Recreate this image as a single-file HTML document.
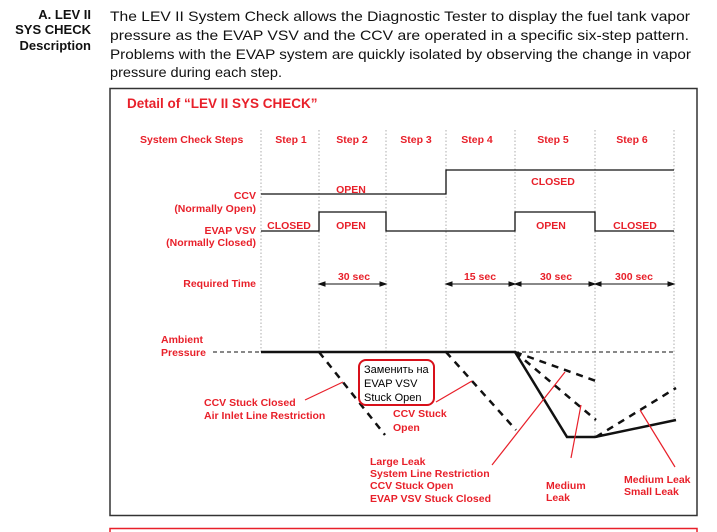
<!DOCTYPE html>
<html><head><meta charset="utf-8"><style>
html,body{margin:0;padding:0;background:#fff;}
svg{display:block;}
text{font-family:"Liberation Sans",Arial,sans-serif;}
.r{fill:#e8202a;font-weight:bold;font-size:10.5px;}
.k{fill:#111;font-size:14px;}
.h{fill:#111;font-size:13px;font-weight:bold;}
</style></head><body>
<svg width="717" height="532" viewBox="0 0 717 532" xmlns="http://www.w3.org/2000/svg">
<text class="h" x="91" y="19" text-anchor="end">A. LEV II</text>
<text class="h" x="91" y="34" text-anchor="end">SYS CHECK</text>
<text class="h" x="91" y="50" text-anchor="end">Description</text>
<text class="k" x="110" y="21" textLength="580" lengthAdjust="spacingAndGlyphs">The LEV II System Check allows the Diagnostic Tester to display the fuel tank vapor</text>
<text class="k" x="110" y="40" textLength="579" lengthAdjust="spacingAndGlyphs">pressure as the EVAP VSV and the CCV are operated in a specific six-step pattern.</text>
<text class="k" x="110" y="59" textLength="581" lengthAdjust="spacingAndGlyphs">Problems with the EVAP system are quickly isolated by observing the change in vapor</text>
<text class="k" x="110" y="77" textLength="172" lengthAdjust="spacingAndGlyphs">pressure during each step.</text>

<rect x="110" y="88.5" width="587" height="427" fill="none" stroke="#333" stroke-width="1.5"/>
<rect x="110" y="528.5" width="587" height="10" fill="none" stroke="#e8202a" stroke-width="1.5"/>

<text x="127" y="108" fill="#e8202a" font-weight="bold" font-size="13.5">Detail of “LEV II SYS CHECK”</text>

<g stroke="#999" stroke-width="0.8" stroke-dasharray="1.5,2">
<line x1="261" y1="130" x2="261" y2="352"/><line x1="319" y1="130" x2="319" y2="352"/>
<line x1="386" y1="130" x2="386" y2="352"/><line x1="446" y1="130" x2="446" y2="352"/>
<line x1="515" y1="130" x2="515" y2="352"/><line x1="595" y1="130" x2="595" y2="437"/>
<line x1="674" y1="130" x2="674" y2="420"/>
</g>

<g class="r">
<text x="140" y="143">System Check Steps</text>
<text x="291" y="143" text-anchor="middle">Step 1</text>
<text x="352" y="143" text-anchor="middle">Step 2</text>
<text x="416" y="143" text-anchor="middle">Step 3</text>
<text x="477" y="143" text-anchor="middle">Step 4</text>
<text x="553" y="143" text-anchor="middle">Step 5</text>
<text x="632" y="143" text-anchor="middle">Step 6</text>
<text x="256" y="199" text-anchor="end">CCV</text>
<text x="256" y="212" text-anchor="end">(Normally Open)</text>
<text x="256" y="234" text-anchor="end">EVAP VSV</text>
<text x="256" y="246" text-anchor="end">(Normally Closed)</text>
<text x="351" y="193" text-anchor="middle">OPEN</text>
<text x="553" y="185" text-anchor="middle">CLOSED</text>
<text x="289" y="229" text-anchor="middle">CLOSED</text>
<text x="351" y="229" text-anchor="middle">OPEN</text>
<text x="551" y="229" text-anchor="middle">OPEN</text>
<text x="635" y="229" text-anchor="middle">CLOSED</text>
<text x="256" y="287" text-anchor="end">Required Time</text>
<text x="354" y="280" text-anchor="middle">30 sec</text>
<text x="480" y="280" text-anchor="middle">15 sec</text>
<text x="556" y="280" text-anchor="middle">30 sec</text>
<text x="634" y="280" text-anchor="middle">300 sec</text>
<text x="161" y="343">Ambient</text>
<text x="161" y="356">Pressure</text>
<text x="204" y="406">CCV Stuck Closed</text>
<text x="204" y="419">Air Inlet Line Restriction</text>
<text x="393" y="417">CCV Stuck</text>
<text x="393" y="431">Open</text>
<text x="370" y="465">Large Leak</text>
<text x="370" y="477">System Line Restriction</text>
<text x="370" y="489">CCV Stuck Open</text>
<text x="370" y="502">EVAP VSV Stuck Closed</text>
<text x="546" y="489">Medium</text>
<text x="546" y="501">Leak</text>
<text x="624" y="483">Medium Leak</text>
<text x="624" y="495">Small Leak</text>
</g>

<g fill="none" stroke="#111" stroke-width="1.3">
<polyline points="261,194 446,194 446,170 674,170"/>
<polyline points="261,231 319,231 319,212 386,212 386,231 515,231 515,212 595,212 595,231 674,231"/>
</g>

<g stroke="#111" stroke-width="1" fill="#111">
<line x1="321" y1="284" x2="384" y2="284"/><polygon points="319,284 325,282 325,286"/><polygon points="386,284 380,282 380,286"/>
<line x1="448" y1="284" x2="513" y2="284"/><polygon points="446,284 452,282 452,286"/><polygon points="515,284 509,282 509,286"/>
<line x1="517" y1="284" x2="593" y2="284"/><polygon points="515,284 521,282 521,286"/><polygon points="595,284 589,282 589,286"/>
<line x1="597" y1="284" x2="672" y2="284"/><polygon points="595,284 601,282 601,286"/><polygon points="674,284 668,282 668,286"/>
</g>

<g fill="none" stroke="#111">
<line x1="213" y1="352" x2="261" y2="352" stroke-width="1" stroke-dasharray="4,3"/>
<line x1="515" y1="352" x2="674" y2="352" stroke-width="1" stroke-dasharray="4,3"/>
<polyline points="261,352 515,352 567,437 595,437 676,420" stroke-width="2.5"/>
<g stroke-width="2.5" stroke-dasharray="7,6">
<line x1="319" y1="352" x2="385" y2="435"/>
<line x1="446" y1="352" x2="516" y2="430"/>
<line x1="515" y1="352" x2="596" y2="381"/>
<line x1="515" y1="352" x2="596" y2="420"/>
<line x1="596" y1="437" x2="676" y2="388"/>
</g>
</g>

<g stroke="#e8202a" stroke-width="1.2">
<line x1="305" y1="400" x2="343" y2="382"/>
<line x1="436" y1="402" x2="472" y2="381"/>
<line x1="492" y1="465" x2="565" y2="372"/>
<line x1="571" y1="458" x2="581" y2="405"/>
<line x1="675" y1="467" x2="640" y2="410"/>
</g>

<rect x="359" y="360" width="75" height="45" rx="7" fill="#fff" stroke="#d8101a" stroke-width="2"/>
<g font-family="'Liberation Sans','DejaVu Sans',sans-serif" font-size="11" fill="#000">
<text x="364" y="373">Заменить на</text>
<text x="364" y="387">EVAP VSV</text>
<text x="364" y="401">Stuck Open</text>
</g>
</svg>
</body></html>
